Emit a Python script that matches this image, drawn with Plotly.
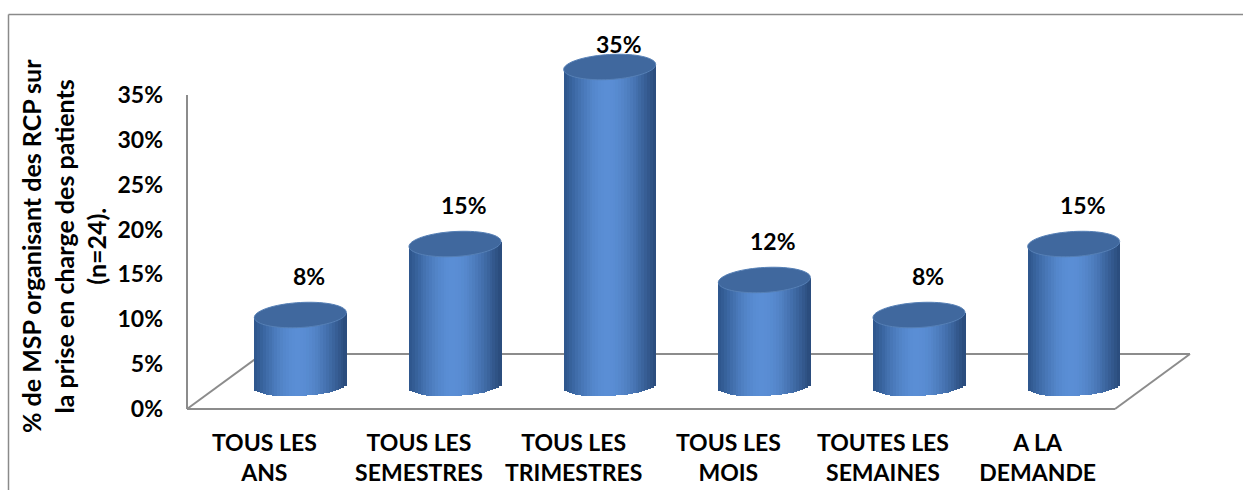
import math
import plotly.graph_objects as go

# ---------------- data ----------------
categories = ["TOUS LES<br>ANS", "TOUS LES<br>SEMESTRES", "TOUS LES<br>TRIMESTRES",
              "TOUS LES<br>MOIS", "TOUTES LES<br>SEMAINES", "A LA<br>DEMANDE"]
values = [0.077, 0.154, 0.346, 0.115, 0.077, 0.154]
y_ticks = [0.0, 0.05, 0.10, 0.15, 0.20, 0.25, 0.30, 0.35]
y_title = "% de MSP organisant des RCP sur<br>la prise en charge des patients<br>(n=24)."

# ---------------- geometry (pixels) ----------------
FIG_W, FIG_H = 1243, 490
X0, Y0 = 187, 409            # front-left corner of the floor (value 0)
n = len(categories)
P = 928 / n                  # px per category on the front edge
SY = 314 / 0.35              # px per unit on the tick axis
DEPTH_DX, DEPTH_DY = 75, 55  # floor depth
BAR_DX = 36                  # cylinders sit at mid depth
Y2_ZERO = 386                # pixel of value 0 for cylinders
SY2 = 922                    # px per unit for cylinders
CYL_A, TOP_B, BOT_B, TILT = 46, 12.5, 10, 2.5
N_STRIPES = 32

PL, PR, PT, PB = 180, 1202, 4, 416   # plot-area pixel box
M_L, M_R, M_T, M_B = PL, FIG_W - PR, PT, FIG_H - PB
PW, PH = PR - PL, PB - PT

def xd(px):  return (px - X0) / P - 0.5
def yd(py):  return (Y0 - py) / SY
def x2d(px): return (px - X0 - BAR_DX) / P - 0.5
def y2d(py): return (Y2_ZERO - py) / SY2
def xp(px):  return (px - PL) / PW
def yp(py):  return (PB - py) / PH

FONT = dict(family="Lato, 'Open Sans', sans-serif", size=23, color="black", weight=700)
TITLE_FONT = dict(FONT, size=25)

def hex2rgb(h):
    h = h.lstrip('#')
    return tuple(int(h[i:i + 2], 16) for i in (0, 2, 4))

DARK_L, DARK_R, LIGHT = hex2rgb('#2d558b'), hex2rgb('#294b7b'), hex2rgb('#5a8ed5')

def shade(u):
    u0 = -0.05
    if u < u0:
        d = (u0 - u) / (1 + u0); dark = DARK_L
    else:
        d = (u - u0) / (1 - u0); dark = DARK_R
    g = math.cos(d * math.pi / 2) ** 1.1
    c = [round(dark[k] + (LIGHT[k] - dark[k]) * g) for k in range(3)]
    return 'rgb(%d,%d,%d)' % tuple(c)

fig = go.Figure()
xs = list(range(n))

# cylinder bodies: vertical shading stripes drawn as bars
for j in range(N_STRIPES):
    ul = -1 + 2 * j / N_STRIPES
    um = ul + 1 / N_STRIPES
    base = (-BOT_B * math.sqrt(max(0, 1 - um * um)) + TILT * um) / SY2
    top_add = TILT * um / SY2
    fig.add_trace(go.Bar(
        x=xs, y=[v + top_add - base for v in values], base=[base] * n,
        offset=ul * CYL_A / P, width=(2 * CYL_A / N_STRIPES + 0.8) / P,
        marker=dict(color=shade(um), line=dict(width=0)),
        xaxis='x2', yaxis='y2', showlegend=False, hoverinfo='skip'))

shapes = []
# floor and axis wall lines
LC = dict(color='#8c8c8c', width=2)
bx, by = DEPTH_DX / P, DEPTH_DY / SY
shapes += [
    dict(type='line', xref='x', yref='y', x0=-0.5, y0=0, x1=n - 0.5, y1=0, line=LC, layer='below'),
    dict(type='line', xref='x', yref='y', x0=-0.5 + bx, y0=by, x1=n - 0.5 + bx, y1=by, line=LC, layer='below'),
    dict(type='line', xref='x', yref='y', x0=-0.5, y0=0, x1=-0.5 + bx, y1=by, line=LC, layer='below'),
    dict(type='line', xref='x', yref='y', x0=n - 0.5, y0=0, x1=n - 0.5 + bx, y1=by, line=LC, layer='below'),
    dict(type='line', xref='x', yref='y', x0=-0.5, y0=0, x1=-0.5, y1=max(y_ticks), line=LC, layer='below'),
]
# outer chart border
BC = dict(color='#8a8a8a', width=1.5)
shapes += [
    dict(type='line', xref='paper', yref='paper', x0=xp(8.5), y0=yp(14.5), x1=xp(FIG_W + 5), y1=yp(14.5), line=BC),
    dict(type='line', xref='paper', yref='paper', x0=xp(8.5), y0=yp(14.5), x1=xp(8.5), y1=yp(FIG_H + 5), line=BC),
]
# top ellipses of cylinders
for i, v in enumerate(values):
    pts = []
    for k in range(73):
        t = 2 * math.pi * k / 72
        dx = CYL_A * math.cos(t)
        dy = TOP_B * math.sin(t) + TILT * math.cos(t)
        pts.append((i + dx / P, v + dy / SY2))
    path = 'M ' + ' L '.join('%.5f,%.5f' % p for p in pts) + ' Z'
    shapes.append(dict(type='path', xref='x2', yref='y2', path=path,
                       fillcolor='#40689e', line=dict(color='#5680b6', width=1)))

# value labels
annotations = []
for i, v in enumerate(values):
    ylab = min(v + 39 / SY2, y2d(44))
    annotations.append(dict(x=i, y=ylab, xref='x2', yref='y2', text='%d%%' % round(v * 100),
                            showarrow=False, xshift=9, font=FONT, xanchor='center', yanchor='middle'))
# y-axis title
annotations.append(dict(x=xp(64), y=yp(246), xref='paper', yref='paper', text=y_title,
                        textangle=-90, showarrow=False, font=TITLE_FONT,
                        xanchor='center', yanchor='middle'))

fig.update_layout(
    width=FIG_W, height=FIG_H,
    margin=dict(l=M_L, r=M_R, t=M_T, b=M_B, autoexpand=False),
    paper_bgcolor='white', plot_bgcolor='white',
    barmode='overlay', bargap=0, showlegend=False,
    shapes=shapes, annotations=annotations, font=FONT,
    xaxis=dict(range=[xd(PL), xd(PR)], tickvals=xs, ticktext=categories, showgrid=False,
               zeroline=False, showline=False, ticks='', tickfont=FONT, ticklabelstandoff=11,
               fixedrange=True),
    yaxis=dict(range=[yd(PB), yd(PT)], tickvals=y_ticks, tickformat='.0%', showgrid=False,
               zeroline=False, showline=False, ticks='', tickfont=FONT, ticklabelstandoff=16,
               fixedrange=True),
    xaxis2=dict(range=[x2d(PL), x2d(PR)], overlaying='x', showgrid=False, zeroline=False,
                showticklabels=False, showline=False, ticks='', fixedrange=True),
    yaxis2=dict(range=[y2d(PB), y2d(PT)], overlaying='y', showgrid=False, zeroline=False,
                showticklabels=False, showline=False, ticks='', fixedrange=True),
)

fig.write_html("out.html", config=dict(displayModeBar=False),
               post_script="document.body.style.margin='0';document.body.style.overflow='hidden';")
